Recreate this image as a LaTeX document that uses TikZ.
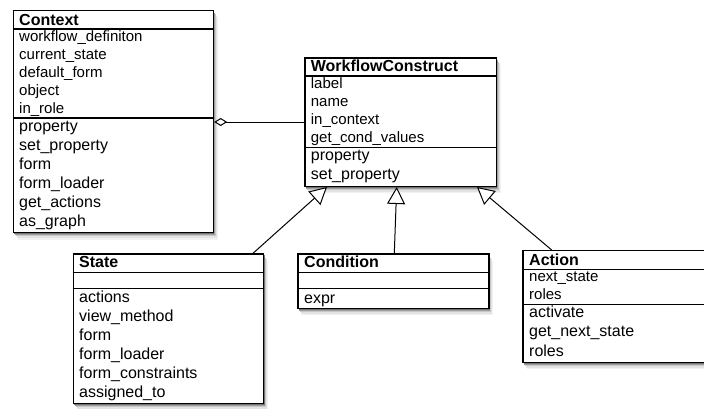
\documentclass[tikz,border=0pt]{standalone}
\usepackage{fontspec}
\setmainfont{Liberation Sans}
\usetikzlibrary{arrows.meta}
\begin{document}
\begin{tikzpicture}[x=1pt,y=-1pt,
  softshadow/.style={
    preaction={draw=none, fill=black!5, transform canvas={xshift=4.5pt,yshift=-7pt}},
    preaction={draw=none, fill=black!11, transform canvas={xshift=3.5pt,yshift=-5.3pt}},
    preaction={draw=none, fill=black!22, transform canvas={xshift=2.5pt,yshift=-3.7pt}},
    preaction={draw=none, fill=black!38, transform canvas={xshift=1.5pt,yshift=-2.3pt}},
    preaction={draw=none, fill=black!55, transform canvas={xshift=0.8pt,yshift=-1.2pt}}},
  umlbox/.style={draw=black, line width=1.2pt, fill=white, rectangle, inner sep=0pt, anchor=north west, softshadow},
  sepline/.style={draw=black, line width=1.1pt},
  ttl/.style={anchor=base west, inner sep=0pt, font=\bfseries\fontsize{16}{19}\selectfont},
  attr/.style={anchor=base west, inner sep=0pt, font=\fontsize{15}{18}\selectfont},
  meth/.style={anchor=base west, inner sep=0pt, font=\fontsize{16}{19}\selectfont},
  inh/.style={draw=black, line width=1pt, -{Triangle[length=17pt,width=18pt,fill=white]}},
  agg/.style={draw=black, line width=1pt, -{Diamond[length=13pt,width=8pt,fill=white]}}
]
\useasboundingbox (0,0) rectangle (704,408);
\clip (0,0) rectangle (704,408);

% ---------- Context ----------
\node[umlbox, minimum width=200.3pt, minimum height=222pt] (context) at (12.7,10) {};
\draw[sepline] (context.west |- 0,29) -- (context.east |- 0,29);
\draw[sepline] (context.west |- 0,118) -- (context.east |- 0,118);
\node[ttl] (ctx-t) at (19,25) {Context};
\node[attr] (ctx-a1) at (19,41.8) {workflow\_definiton};
\node[attr] (ctx-a2) at (19,59.6) {current\_state};
\node[attr] (ctx-a3) at (19,77.4) {default\_form};
\node[attr] (ctx-a4) at (19,95.2) {object};
\node[attr] (ctx-a5) at (19,113) {in\_role};
\node[meth] (ctx-m1) at (19,131.5) {property};
\node[meth] (ctx-m2) at (19,150.5) {set\_property};
\node[meth] (ctx-m3) at (19,169.5) {form};
\node[meth] (ctx-m4) at (19,188.5) {form\_loader};
\node[meth] (ctx-m5) at (19,207.5) {get\_actions};
\node[meth] (ctx-m6) at (19,226.5) {as\_graph};

% ---------- WorkflowConstruct ----------
\node[umlbox, minimum width=191.4pt, minimum height=128.4pt] (wc) at (304.3,57.3) {};
\draw[sepline] (wc.west |- 0,76) -- (wc.east |- 0,76);
\draw[sepline] (wc.west |- 0,147.3) -- (wc.east |- 0,147.3);
\node[ttl] (wc-t) at (310.7,71.8) {WorkflowConstruct};
\node[attr] (wc-a1) at (310.7,88.4) {label};
\node[attr] (wc-a2) at (310.7,106.2) {name};
\node[attr] (wc-a3) at (310.7,124) {in\_context};
\node[attr] (wc-a4) at (310.7,142) {get\_cond\_values};
\node[meth] (wc-m1) at (310.7,160.8) {property};
\node[meth] (wc-m2) at (310.7,179.6) {set\_property};

% ---------- State ----------
\node[umlbox, minimum width=190.5pt, minimum height=149.5pt] (state) at (72.7,253.3) {};
\draw[sepline] (state.west |- 0,272.3) -- (state.east |- 0,272.3);
\draw[sepline] (state.west |- 0,288.3) -- (state.east |- 0,288.3);
\node[ttl] (st-t) at (79,267.5) {State};
\node[meth] (st-m1) at (79,302) {actions};
\node[meth] (st-m2) at (79,321) {view\_method};
\node[meth] (st-m3) at (79,340) {form};
\node[meth] (st-m4) at (79,359) {form\_loader};
\node[meth] (st-m5) at (79,378) {form\_constraints};
\node[meth] (st-m6) at (79,397.3) {assigned\_to};

% ---------- Condition ----------
\node[umlbox, minimum width=191pt, minimum height=54.5pt] (cond) at (297.3,253.3) {};
\draw[sepline] (cond.west |- 0,272.3) -- (cond.east |- 0,272.3);
\draw[sepline] (cond.west |- 0,288.3) -- (cond.east |- 0,288.3);
\node[ttl] (cd-t) at (304,267.5) {Condition};
\node[meth] (cd-m1) at (304,303.3) {expr};

% ---------- Action ----------
\node[umlbox, minimum width=190pt, minimum height=111.7pt] (action) at (522.3,250) {};
\draw[sepline] (action.west |- 0,269.3) -- (action.east |- 0,269.3);
\draw[sepline] (action.west |- 0,304.3) -- (action.east |- 0,304.3);
\node[ttl] (ac-t) at (529,265) {Action};
\node[attr] (ac-a1) at (529,281.6) {next\_state};
\node[attr] (ac-a2) at (529,299.1) {roles};
\node[meth] (ac-m1) at (529,317.6) {activate};
\node[meth] (ac-m2) at (529,336.6) {get\_next\_state};
\node[meth] (ac-m3) at (529,356) {roles};

% ---------- connectors ----------
\draw[agg] (wc.west |- 0,122) -- (context.east |- 0,122);
\coordinate (tipL) at (327,187);
\coordinate (tipM) at (396.7,187);
\coordinate (tipR) at (477,187);
\draw[inh] (state.north -| 253,0) -- (tipL);
\draw[inh] (cond.north -| 394.3,0) -- (tipM);
\draw[inh] (action.north -| 551.7,0) -- (tipR);
\end{tikzpicture}
\end{document}
